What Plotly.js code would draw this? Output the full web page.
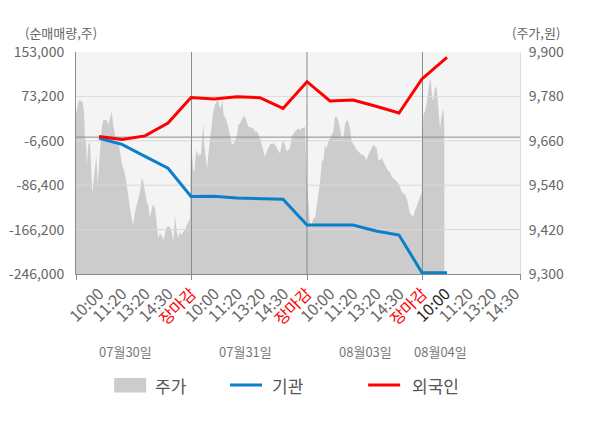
<!DOCTYPE html>
<html>
<head>
<meta charset="utf-8">
<script src="https://cdn.plot.ly/plotly-3.0.1.min.js"></script>
<style>
  body { margin: 0; background: #fff; }
  #myDiv { width: 600px; height: 428px; }
</style>
</head>
<body>
<div id="myDiv"></div>
<script>
// x is a time slot index: one trading day is dayLen slots wide
var dayLen = 115.5,
    xMax = 444,
    dayNames = ['07월30일', '07월31일', '08월03일', '08월04일'],
    dayNameSlot = [49, 169, 289, 364.5],
    tickTimes = ['10:00', '11:20', '13:20', '14:30', '장마감'];

// 주가 (원)
var priceSlot = [
  0, 1.7, 3, 6.3, 8, 9, 10, 11, 12.3, 14, 15, 16.3, 17.3, 19, 20.3, 21.7, 23, 24.3, 25.7, 27.3,
  30.7, 32.3, 34, 35.7, 37.3, 39, 40.7, 42.3, 44, 45.7, 47.3, 49, 50.7, 52.3, 54, 55.7, 57.3, 59,
  60.7, 62.3, 64, 65.7, 67.3, 69, 70.7, 72.3, 74, 75.7, 77.3, 79, 80.7, 82.3, 84, 85.7, 87.3, 89,
  90.7, 94, 95.7, 97.3, 99, 100.7, 102.3, 104, 105.7, 107.3, 109, 110.7, 112.3, 114,
  114.7, 115.7, 117.3, 118.3, 119.7, 121, 122.3, 123.7, 125, 126.3, 127.3, 128.3, 129.7, 131,
  132.3, 134, 135.7, 137.3, 139, 140.7, 142.3, 143.7, 145, 146.3, 147.7, 149, 150.7, 152.3, 154,
  155.7, 157.3, 159, 160.7, 162.3, 164, 165.7, 167.3, 169, 170.7, 172.3, 174, 175.7, 177.3, 179,
  180.7, 182.3, 184, 185.7, 187.3, 189, 190.7, 192.3, 194, 195.7, 197.3, 199, 200.7, 202.3, 204,
  205.7, 207.3, 209, 210.7, 212.3, 214, 215.7, 217.3, 219, 220.7, 222.3, 224, 225.7, 227.3, 229,
  230.7, 231.3, 233.3, 234.7, 235.7, 237.3, 239, 240.7, 242.3, 244, 245, 246, 247.3, 249, 250.7,
  252.3, 254, 255.7, 257.3, 259, 260.7, 262.3, 264, 265.7, 267.3, 269, 270.7, 272.3, 274, 275.7,
  277.3, 279, 280.7, 282.3, 284, 285.7, 287.3, 289, 290.7, 292.3, 294, 295.7, 297.3, 299, 300.7,
  302.3, 304, 305.7, 307.3, 309, 310.7, 312.3, 314, 315.7, 317.3, 319, 320.7, 322.3, 324, 325.7,
  327.3, 329, 330.7, 332.3, 334, 335.7, 337.3, 339, 340.7, 342.3, 344, 345.7,
  347.3, 349, 350.7, 352.3, 354, 355, 356.3, 357.3, 359, 360.7, 362.3, 364, 365.7, 367.3, 368.3
];
var priceWon = [
  9734, 9761, 9770, 9766, 9739, 9667, 9658, 9595, 9649, 9658, 9595, 9518, 9541, 9595, 9622, 9545, 9586, 9649, 9694, 9716,
  9716, 9703, 9725, 9739, 9703, 9676, 9649, 9662, 9631, 9599, 9586, 9568, 9541, 9505, 9478, 9451, 9432, 9468,
  9486, 9505, 9522, 9559, 9549, 9522, 9495, 9486, 9451, 9478, 9488, 9478, 9424, 9397, 9410, 9405, 9392, 9414,
  9428, 9428, 9414, 9387, 9459, 9414, 9397, 9414, 9405, 9414, 9419, 9432, 9441, 9451,
  9649, 9631, 9581, 9576, 9622, 9635, 9617, 9626, 9622, 9680, 9707, 9649, 9608, 9586,
  9622, 9667, 9712, 9739, 9757, 9766, 9770, 9748, 9752, 9770, 9730, 9725, 9712, 9698, 9676,
  9653, 9649, 9658, 9671, 9703, 9707, 9716, 9725, 9727, 9712, 9698, 9698, 9694, 9694, 9685,
  9685, 9680, 9667, 9649, 9640, 9617, 9631, 9640, 9649, 9653, 9653, 9649, 9640, 9631, 9626,
  9649, 9662, 9649, 9631, 9635, 9640, 9671, 9680, 9685, 9689, 9694, 9689, 9694, 9695, 9698,
  9559, 9532, 9459, 9424, 9432, 9451, 9451, 9478, 9514, 9549, 9586, 9608, 9604, 9649, 9640,
  9658, 9667, 9676, 9685, 9725, 9725, 9712, 9694, 9667, 9671, 9703, 9716, 9712, 9694, 9658,
  9649, 9644, 9635, 9631, 9626, 9622, 9622, 9613, 9608, 9622, 9631, 9644, 9649, 9644, 9640,
  9608, 9608, 9613, 9604, 9595, 9586, 9578, 9576, 9563, 9559, 9554, 9549, 9545, 9536, 9522,
  9518, 9514, 9505, 9486, 9464, 9459, 9455, 9473, 9482, 9495, 9509, 9518,
  9730, 9739, 9762, 9795, 9829, 9815, 9775, 9770, 9806, 9802, 9739, 9694, 9730, 9748, 9703
];

// 누적 순매매량 (주)
var flowSlot = [23, 46, 69, 92, 115, 138, 161, 184, 207, 231, 254, 277, 300, 323, 346, 371];
var instNet = [-2100, -13000, -34500, -56000, -106700, -106300, -109400, -111200, -111700,
               -157900, -157900, -157900, -168700, -175900, -243700, -243700];
var foreignNet = [1000, -4100, 2200, 25400, 71200, 68500, 72700, 70900, 51500,
                  99600, 64900, 66700, 55400, 43400, 104500, 143500];

var volTicks = [-246000, -166200, -86400, -6600, 73200, 153000];
var priceTicks = [9300, 9420, 9540, 9660, 9780, 9900];

var priceColor = '#cccccc',
    instColor = '#0a7fcc',
    foreignColor = '#ff0000',
    gridColor = '#dadada',
    darkLine = '#8c8c8c',
    textGray = '#666666',
    font = 'Noto Sans CJK KR, Noto Sans, sans-serif';

function fmt(v) {
  var s = Math.abs(v).toString().replace(/\B(?=(\d{3})+(?!\d))/g, ',');
  return (v < 0 ? '-' : '') + s;
}

// tick labels: five per day, 장마감 in red, the current day's first label dark
var tickVals = [], tickText = [];
for (var d = 0; d < dayNames.length; d++) {
  for (var k = 1; k <= tickTimes.length; k++) {
    var v = d * dayLen + k * dayLen / tickTimes.length;
    if (v > xMax) continue;
    var col = k === tickTimes.length ? 'red' : (d === dayNames.length - 1 && k === 1 ? '#222' : textGray);
    tickVals.push(v);
    tickText.push('<span style="color:' + col + '">' + tickTimes[k - 1] + '</span>');
  }
}
var dayBounds = [];
for (var b = 0; b <= dayNames.length; b++) dayBounds.push(Math.min(b * dayLen, xMax));

// grid lines drawn as a trace so they sit above the price area but under the lines
var gridX = [], gridY = [];
volTicks.slice(1, -1).forEach(function (t) { gridX.push(0, xMax, null); gridY.push(t, t, null); });
var sepX = [], sepY = [];
dayBounds.slice(1, -1).forEach(function (t) {
  sepX.push(t, t, null); sepY.push(volTicks[0], volTicks[volTicks.length - 1], null);
});
sepX.push(0, xMax, null); sepY.push(0, 0, null);

// price lives on the base axis (drawn first), volumes on the overlay (drawn on top)
var data = [
  {x: priceSlot, y: priceWon, yaxis: 'y', type: 'scatter', mode: 'lines', name: '주가',
   fill: 'tozeroy', fillcolor: priceColor, line: {width: 0, color: priceColor}, hoverinfo: 'skip'},
  {x: gridX, y: gridY, yaxis: 'y2', type: 'scatter', mode: 'lines',
   line: {color: gridColor, width: 1}, hoverinfo: 'skip'},
  {x: sepX, y: sepY, yaxis: 'y2', type: 'scatter', mode: 'lines',
   line: {color: darkLine, width: 1}, hoverinfo: 'skip'},
  {x: flowSlot, y: instNet, yaxis: 'y2', type: 'scatter', mode: 'lines', name: '기관',
   line: {color: instColor, width: 3}},
  {x: flowSlot, y: foreignNet, yaxis: 'y2', type: 'scatter', mode: 'lines', name: '외국인',
   line: {color: foreignColor, width: 3}}
];

// hand-drawn legend along the bottom (paper coordinates)
var legendY = -0.5;
var shapes = [
  {type: 'rect', xref: 'paper', yref: 'paper', x0: 0.086, x1: 0.158, y0: -0.534, y1: -0.468,
   fillcolor: priceColor, line: {width: 0}},
  {type: 'line', xref: 'paper', yref: 'paper', x0: 0.347, x1: 0.419, y0: legendY, y1: legendY,
   line: {color: instColor, width: 3}},
  {type: 'line', xref: 'paper', yref: 'paper', x0: 0.658, x1: 0.730, y0: legendY, y1: legendY,
   line: {color: foreignColor, width: 3}}
];

function note(x, y, text, size, color, xanchor, xref) {
  return {xref: xref || 'paper', yref: 'paper', x: x, y: y, text: text, showarrow: false,
          xanchor: xanchor || 'center', yanchor: 'middle', font: {size: size, color: color}};
}
var annotations = [
  note(-0.034, 1.086, '(순매매량,주)', 13, textGray),
  note(1.035, 1.086, '(주가,원)', 13, textGray),
  note(0.173, legendY, '주가', 17, '#555', 'left'),
  note(0.437, legendY, '기관', 17, '#555', 'left'),
  note(0.752, legendY, '외국인', 17, '#555', 'left')
];
dayNames.forEach(function (n, i) {
  annotations.push(note(dayNameSlot[i], -0.351, n, 13, '#777', 'center', 'x'));
});

var layout = {
  width: 600, height: 428,
  margin: {l: 76, r: 80, t: 52, b: 154},
  paper_bgcolor: '#ffffff',
  plot_bgcolor: '#f4f4f4',
  font: {family: font, size: 13, color: textGray},
  showlegend: false,
  hovermode: false,
  xaxis: {
    range: [0, xMax], tickmode: 'array', tickvals: tickVals, ticktext: tickText,
    tickangle: -45, tickfont: {size: 16, color: textGray}, ticks: '',
    showgrid: false, zeroline: false, showline: true, linecolor: darkLine,
    ticklabelstandoff: 3,
    minor: {tickmode: 'array', tickvals: dayBounds, ticks: 'outside', ticklen: 5,
            tickcolor: darkLine, showgrid: false}
  },
  yaxis: {
    side: 'right',
    range: [priceTicks[0], priceTicks[priceTicks.length - 1]], tickmode: 'array',
    tickvals: priceTicks, ticktext: priceTicks.map(fmt), tickfont: {size: 14, color: textGray},
    showgrid: false, zeroline: false, showline: true, linecolor: '#dddddd', ticks: '',
    ticklabelstandoff: 5
  },
  yaxis2: {
    overlaying: 'y', side: 'left',
    range: [volTicks[0], volTicks[volTicks.length - 1]], tickmode: 'array',
    tickvals: volTicks, ticktext: volTicks.map(fmt), tickfont: {size: 14, color: textGray},
    showgrid: false, zeroline: false, showline: true, linecolor: darkLine, ticks: '',
    ticklabelstandoff: 8
  },
  shapes: shapes,
  annotations: annotations
};

Plotly.newPlot('myDiv', data, layout, {displayModeBar: false, staticPlot: true});
</script>
</body>
</html>
